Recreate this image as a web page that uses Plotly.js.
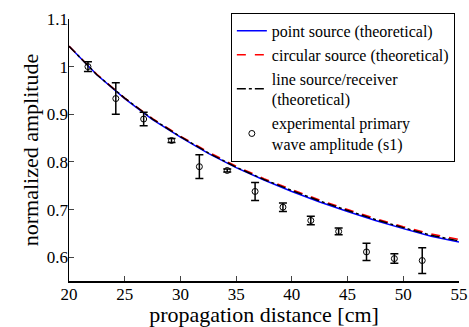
<!DOCTYPE html>
<html>
<head>
<meta charset="utf-8">
<script src="https://cdn.plot.ly/plotly-3.0.1.min.js"></script>
<style>html,body{margin:0;padding:0;background:#fff;}#chart{width:469px;height:327px;}</style>
</head>
<body>
<div id="chart"></div>
<script>
// theoretical curves
const curveX = [20, 22.5, 25, 27.5, 30, 32.5, 35, 37.5, 40, 42.5, 45, 47.5, 50, 52.5, 55];
const pointSource = [1.043, 0.983, 0.933, 0.889, 0.852, 0.818, 0.788, 0.762, 0.738, 0.716, 0.696, 0.677, 0.660, 0.644, 0.632];
const circularSource = [1.043, 0.984, 0.934, 0.891, 0.854, 0.821, 0.791, 0.765, 0.742, 0.720, 0.700, 0.681, 0.664, 0.649, 0.637];
const lineSource = [1.043, 0.983, 0.934, 0.890, 0.853, 0.819, 0.789, 0.763, 0.740, 0.718, 0.698, 0.679, 0.662, 0.646, 0.634];

// experimental points
const expX = [21.7, 24.2, 26.7, 29.2, 31.7, 34.2, 36.7, 39.2, 41.7, 44.2, 46.7, 49.2, 51.7];
const expY = [1.000, 0.933, 0.890, 0.845, 0.790, 0.782, 0.738, 0.705, 0.677, 0.654, 0.611, 0.597, 0.593];
const expErr = [0.010, 0.033, 0.014, 0.004, 0.025, 0.003, 0.019, 0.009, 0.009, 0.007, 0.018, 0.010, 0.027];

const xTicks = [20, 25, 30, 35, 40, 45, 50, 55];
const yTicks = [0.6, 0.7, 0.8, 0.9, 1, 1.1];
const yTickText = ['0.6', '0.7', '0.8', '0.9', '1', '1.1'];

const font = 'Times New Roman, Liberation Serif, serif';

const traces = [
  {x: curveX, y: pointSource, mode: 'lines', name: 'point source (theoretical)',
   line: {color: '#0000ff', width: 1.5}},
  {x: curveX, y: circularSource, mode: 'lines', name: 'circular source (theoretical)',
   line: {color: '#ff0000', width: 1.5, dash: 'dash'}},
  {x: curveX, y: lineSource, mode: 'lines', name: 'line source/receiver<br>(theoretical)',
   line: {color: '#000000', width: 1.5, dash: 'dashdot'}},
  {x: expX, y: expY, mode: 'markers', name: 'experimental primary<br>wave amplitude (s1)',
   marker: {symbol: 'circle-open', size: 6, color: '#000', line: {width: 1}},
   error_y: {type: 'data', array: expErr, visible: true, color: '#000', thickness: 1.5, width: 4}}
];

const layout = {
  width: 469, height: 327,
  margin: {l: 69, r: 10, t: 19, b: 46},
  paper_bgcolor: '#fff', plot_bgcolor: '#fff',
  font: {family: font, color: '#000', size: 17},
  showlegend: true,
  legend: {x: 0.415, y: 1.023, xanchor: 'left', yanchor: 'top',
    bgcolor: '#fff', bordercolor: '#000', borderwidth: 1,
    font: {family: font, size: 16, color: '#000'}, tracegroupgap: 0},
  xaxis: {range: [20, 55], tickvals: xTicks, ticks: 'inside', ticklen: 5, tickwidth: 1,
    ticklabelstandoff: -3,
    showline: true, linecolor: '#000', linewidth: 1.5, mirror: false, showgrid: false, zeroline: false,
    tickfont: {family: font, size: 17, color: '#000'}, automargin: false,
    title: {text: 'propagation distance [cm]', font: {family: font, size: 22, color: '#000'}, standoff: 6}},
  yaxis: {range: [0.55, 1.1], tickvals: yTicks, ticktext: yTickText, ticks: 'inside', ticklen: 5, tickwidth: 1,
    ticklabelstandoff: -4,
    showline: true, linecolor: '#000', linewidth: 1.5, mirror: false, showgrid: false, zeroline: false,
    tickfont: {family: font, size: 17, color: '#000'}, automargin: false,
    title: {text: 'normalized amplitude', font: {family: font, size: 22, color: '#000'}, standoff: 2}}
};

Plotly.newPlot('chart', traces, layout, {displayModeBar: false, staticPlot: true});
</script>
</body>
</html>
